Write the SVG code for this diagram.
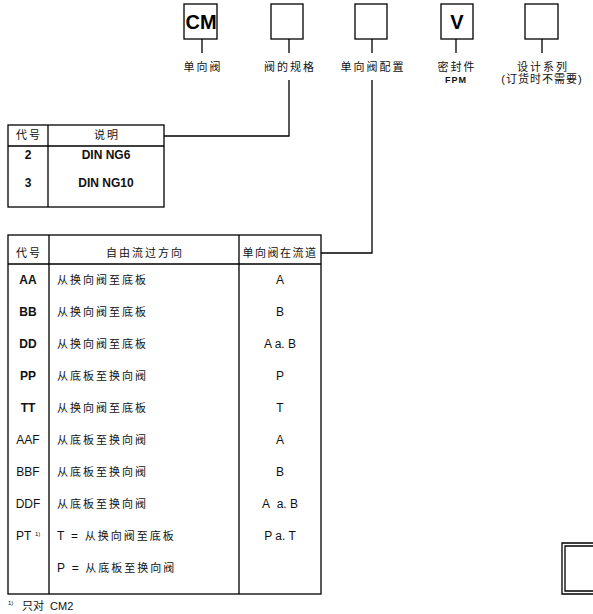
<svg xmlns="http://www.w3.org/2000/svg" width="593" height="614" viewBox="0 0 593 614">
<style>
.ln{stroke:#000;stroke-width:1.3;fill:none}
.t{font-family:"Liberation Sans","Noto Sans CJK SC",sans-serif;font-size:11px;fill:#111}
.c{text-anchor:middle}
.b{font-weight:bold}
.l{font-size:12px}
.cj{letter-spacing:2px;font-size:11px}
.big{font-family:"Liberation Sans",sans-serif;font-size:20px;font-weight:bold;text-anchor:middle;fill:#000}
</style>
<rect width="593" height="614" fill="#fff"/>
<g id="box-cm"><rect class="ln" x="184" y="4" width="33" height="35"/><text class="big" x="201" y="29">CM</text><text class="t c cj" x="203" y="71">单向阀</text></g>
<g id="box-size"><rect class="ln" x="271" y="4" width="32" height="35"/><text class="t c cj" x="290" y="71">阀的规格</text></g>
<g id="box-config"><rect class="ln" x="355" y="4" width="32" height="35"/><text class="t c cj" x="373" y="71">单向阀配置</text></g>
<g id="box-seal"><rect class="ln" x="441" y="4" width="32" height="35"/><text class="big" x="457" y="29">V</text><text class="t c cj" x="457" y="71">密封件</text><text class="t c b" x="456" y="83" style="font-size:9px;letter-spacing:1px">FPM</text></g>
<g id="box-series"><rect class="ln" x="525" y="4" width="33" height="35"/><text class="t c cj" x="543" y="71">设计系列</text><text class="t c" x="542" y="83" style="letter-spacing:1px">(订货时不需要)</text></g>
<g id="connectors">
<path class="ln" d="M202 39V53M289 39V53M372 39V53M456 39V53M542 39V53"/>
<path class="ln" d="M289 80V136H164"/>
<path class="ln" d="M372 80V253H321"/>
</g>
<g id="table-size">
<rect class="ln" x="8" y="125" width="156" height="82"/>
<path class="ln" d="M8 146H164M48 125V207"/>
<text class="t c cj" x="29" y="139">代号</text>
<text class="t c cj" x="107" y="139">说明</text>
<text class="t c b l" x="28" y="159">2</text>
<text class="t c b l" x="106" y="159">DIN NG6</text>
<text class="t c b l" x="28" y="187">3</text>
<text class="t c b l" x="106" y="187">DIN NG10</text>
</g>
<g id="table-config">
<rect class="ln" x="8" y="235" width="313" height="359"/>
<path class="ln" d="M8 264H321M49 235V594M239 235V594"/>
<text class="t c cj" x="29" y="257">代号</text>
<text class="t c cj" x="145" y="257">自由流过方向</text>
<text class="t c" x="280" y="257" style="letter-spacing:1.5px">单向阀在流道</text>
<g class="t l">
<text class="c b" x="28" y="284">AA</text><text class="cj" x="57" y="284">从换向阀至底板</text><text class="c" x="280" y="284">A</text>
<text class="c b" x="28" y="316">BB</text><text class="cj" x="57" y="316">从换向阀至底板</text><text class="c" x="280" y="316">B</text>
<text class="c b" x="28" y="348">DD</text><text class="cj" x="57" y="348">从换向阀至底板</text><text class="c" x="280" y="348">A a. B</text>
<text class="c b" x="28" y="380">PP</text><text class="cj" x="57" y="380">从底板至换向阀</text><text class="c" x="280" y="380">P</text>
<text class="c b" x="28" y="412">TT</text><text class="cj" x="57" y="412">从换向阀至底板</text><text class="c" x="280" y="412">T</text>
<text class="c" x="28" y="444">AAF</text><text class="cj" x="57" y="444">从底板至换向阀</text><text class="c" x="280" y="444">A</text>
<text class="c" x="28" y="476">BBF</text><text class="cj" x="57" y="476">从底板至换向阀</text><text class="c" x="280" y="476">B</text>
<text class="c" x="28" y="508">DDF</text><text class="cj" x="57" y="508">从底板至换向阀</text><text class="c" x="280" y="508">A&#160;&#160;a. B</text>
<text x="16" y="540">PT</text><text x="35" y="536" style="font-size:6px">1)</text><text x="57" y="540">T&#160;&#160;=&#160;&#160;<tspan class="cj">从换向阀至底板</tspan></text><text class="c" x="280" y="540">P a. T</text>
<text x="57" y="572">P&#160;&#160;=&#160;&#160;<tspan class="cj">从底板至换向阀</tspan></text>
</g>
</g>
<g id="footnote">
<text class="t" x="8" y="605" style="font-size:6px">1)</text>
<text class="t" x="22" y="610">只对&#160;&#160;CM2</text>
</g>
<g id="corner-mark">
<path class="ln" d="M593 543H562V594H593M593 546H565V591H593"/>
</g>
</svg>
